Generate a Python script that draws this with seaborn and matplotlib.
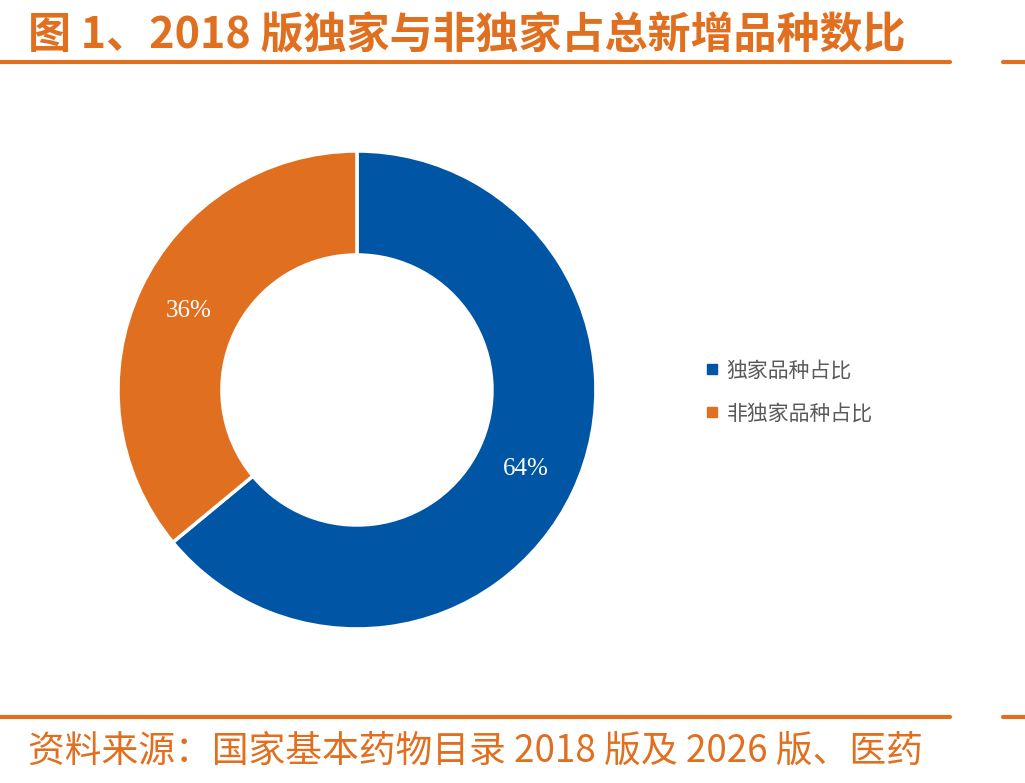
import matplotlib
matplotlib.use("Agg")
import matplotlib.pyplot as plt
from matplotlib.lines import Line2D
import numpy as np
import seaborn as sns

# data
labels = ["独家品种占比", "非独家品种占比"]
shares = [64, 36]
pct_text = ["64%", "36%"]

title = "图 1、2018 版独家与非独家占总新增品种数比"
source = "资料来源：国家基本药物目录 2018 版及 2026 版、医药"

sns.set_theme(style="white")
plt.rcParams['font.family'] = ['Noto Sans CJK SC', 'DejaVu Sans']

blue = "#0055A5"
orange = "#E07020"
colors = [blue, orange]

fig = plt.figure(figsize=(10.25, 7.83), dpi=100)
ax = fig.add_axes([0.1151, 0.1967, 0.4663, 0.6105])

wedges, _ = ax.pie(shares, colors=colors, startangle=90, counterclock=False,
                   radius=1.0, wedgeprops=dict(width=0.435, edgecolor="white", linewidth=2.5))
ax.set_xlim(-1, 1)
ax.set_ylim(-1, 1)
ax.set_aspect("equal")
ax.axis("off")

# percent labels at middle of the ring
start = 90.0
for val, txt in zip(shares, pct_text):
    span = 360.0 * val / sum(shares)
    mid = np.deg2rad(start - span / 2)
    r = 0.78
    ax.text(r * np.cos(mid), r * np.sin(mid), txt, color="white", fontsize=18,
            family="Liberation Serif", ha="center", va="center")
    start -= span

handles = [Line2D([0], [0], marker="s", linestyle="", markersize=7,
                  markerfacecolor=c, markeredgecolor=c) for c in colors]
leg = fig.legend(handles, labels, loc="center left", bbox_to_anchor=(0.668, 0.4995),
                 frameon=False, fontsize=15, labelspacing=1.0, handletextpad=0.3,
                 handlelength=0.8)
for t in leg.get_texts():
    t.set_color("#595959")

# header / footer
fig.text(0.027, 0.955, title, color=orange, fontsize=31, fontweight="bold",
         ha="left", va="center")
fig.text(0.027, 0.041, source, color=orange, fontsize=26.5,
         ha="left", va="center")

for y in [1 - 62 / 783, 1 - 717 / 783]:
    fig.add_artist(Line2D([0, 950 / 1025], [y, y], color=orange, lw=3))
    fig.add_artist(Line2D([1003 / 1025, 1], [y, y], color=orange, lw=3))

fig.savefig("out.png", dpi=100)
